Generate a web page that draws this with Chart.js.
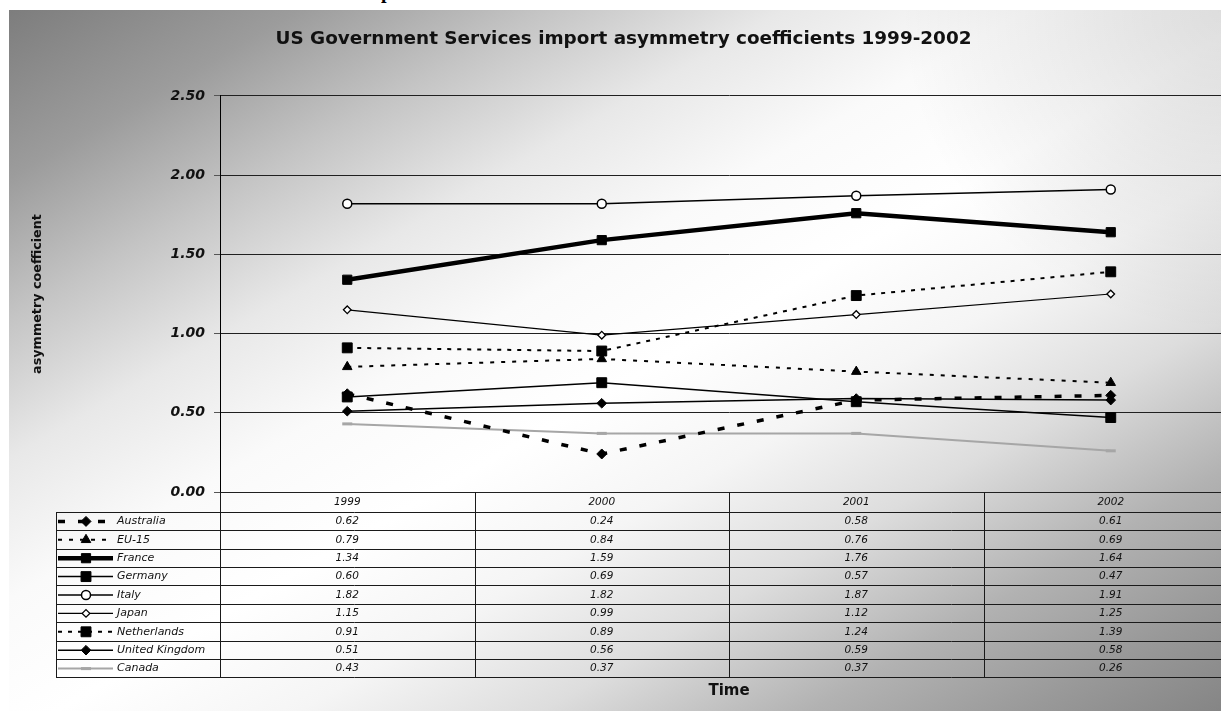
<!DOCTYPE html>
<html>
<head>
<meta charset="utf-8">
<script src="https://cdn.jsdelivr.net/npm/chart.js@4.4.1/dist/chart.umd.min.js"></script>
<style>
  html, body { margin:0; padding:0; background:#fff; overflow:hidden; width:1221px; height:711px; }
  #bg { position:absolute; left:9px; top:10px; width:1212px; height:701px;
        background:
          radial-gradient(circle at 100% 0%, rgba(0,0,0,0.13) 0px, rgba(0,0,0,0) 320px),
          linear-gradient(to bottom right,
          #7d7d7d 0%, #9c9c9c 12%, #c4c4c4 22%, #e8e8e8 32%, #fafafa 42%, #ffffff 52%,
          #f5f5f5 62%, #dddddd 72%, #b2b2b2 83%, #999999 92%, #858585 100%); }
  #wrap { position:absolute; left:9px; top:10px; width:1241px; height:701px; }
  #frag { position:absolute; left:381px; top:0; width:20px; height:4px; overflow:hidden;
          font:bold 20px "Liberation Serif"; line-height:20px; color:#000; }
  #frag span { position:relative; top:-19px; }
</style>
</head>
<body>
<div id="frag"><span>p</span></div>
<div id="bg"></div>
<div id="wrap"><canvas id="c" width="1241" height="701"></canvas></div>
<script>
// ---- data ----
const years = ['1999', '2000', '2001', '2002'];
const australia   = [0.62, 0.24, 0.58, 0.61];
const eu15        = [0.79, 0.84, 0.76, 0.69];
const france      = [1.34, 1.59, 1.76, 1.64];
const germany     = [0.60, 0.69, 0.57, 0.47];
const italy       = [1.82, 1.82, 1.87, 1.91];
const japan       = [1.15, 0.99, 1.12, 1.25];
const netherlands = [0.91, 0.89, 1.24, 1.39];
const unitedKingdom = [0.51, 0.56, 0.59, 0.58];
const canada      = [0.43, 0.37, 0.37, 0.26];
const seriesNames = ['Australia', 'EU-15', 'France', 'Germany', 'Italy', 'Japan', 'Netherlands', 'United Kingdom', 'Canada'];
const yMin = 0, yMax = 2.5, yStep = 0.5;
const titleText = 'US Government Services import asymmetry coefficients 1999-2002';
const yTitle = 'asymmetry coefficient';
const xTitle = 'Time';

const FONT = 'DejaVu Sans';
const BLACK = '#000';

const styles = [
  { borderWidth: 3.5, borderDash: [7, 13], pointStyle: 'rectRot', pointRadius: 5 },
  { borderWidth: 2, borderDash: [4, 7], pointStyle: 'triangle', pointRadius: 5.5 },
  { borderWidth: 4.5, pointStyle: 'rect', pointRadius: 6.5 },
  { borderWidth: 1.5, pointStyle: 'rect', pointRadius: 7 },
  { borderWidth: 1.5, pointStyle: 'circle', pointRadius: 4.5, pointBackgroundColor: '#fff', pointBorderWidth: 1.5 },
  { borderWidth: 1.2, pointStyle: 'rectRot', pointRadius: 3.8, pointBackgroundColor: '#fff', pointBorderWidth: 1.3 },
  { borderWidth: 2, borderDash: [4, 6], pointStyle: 'rect', pointRadius: 7 },
  { borderWidth: 1.5, pointStyle: 'rectRot', pointRadius: 4.8 },
  { borderWidth: 2, borderColor: '#a6a6a6', pointStyle: 'line', pointRadius: 5, pointBorderWidth: 3, pointBorderColor: '#a6a6a6', pointBackgroundColor: '#a6a6a6' }
];
const seriesData = [australia, eu15, france, germany, italy, japan, netherlands, unitedKingdom, canada];

const datasets = seriesData.map((d, i) => Object.assign({
  label: seriesNames[i],
  data: d,
  borderColor: BLACK,
  backgroundColor: BLACK,
  pointBackgroundColor: BLACK,
  pointBorderColor: BLACK,
  pointBorderWidth: 1,
  borderDash: [],
  tension: 0,
  fill: false
}, styles[i]));

function drawMarker(c, ds, x, y) {
  const opts = { pointStyle: ds.pointStyle, radius: ds.pointRadius, rotation: 0, borderWidth: ds.pointBorderWidth };
  c.save();
  c.setLineDash([]);
  c.fillStyle = ds.pointBackgroundColor;
  c.strokeStyle = ds.pointBorderColor;
  c.lineWidth = ds.pointBorderWidth;
  if (Chart.helpers && Chart.helpers.drawPoint) {
    Chart.helpers.drawPoint(c, opts, x, y);
  } else {
    const r = ds.pointRadius;
    c.beginPath();
    if (ds.pointStyle === 'circle') c.arc(x, y, r, 0, Math.PI * 2);
    else if (ds.pointStyle === 'rect') { const s = r * Math.SQRT1_2; c.rect(x - s, y - s, 2 * s, 2 * s); }
    else if (ds.pointStyle === 'rectRot') { c.moveTo(x, y - r); c.lineTo(x + r, y); c.lineTo(x, y + r); c.lineTo(x - r, y); c.closePath(); }
    else if (ds.pointStyle === 'triangle') { c.moveTo(x, y - r); c.lineTo(x + r * 0.866, y + r * 0.5); c.lineTo(x - r * 0.866, y + r * 0.5); c.closePath(); }
    else if (ds.pointStyle === 'line') { c.moveTo(x - r, y); c.lineTo(x + r, y); }
    c.fill();
    c.stroke();
  }
  c.restore();
}

const tablePlugin = {
  id: 'dataTable',
  afterDraw(chart) {
    const c = chart.ctx, a = chart.chartArea, xs = chart.scales.x;
    const W = chart.width;
    const headTop = a.bottom, headBot = a.bottom + 19.7, rowH = 18.4;
    const dsets = chart.data.datasets;
    const n = dsets.length;
    const tableBot = headBot + n * rowH;
    const legLeft = 47;
    const colW = (a.right - a.left) / years.length;
    const line = (x1, y1, x2, y2) => { c.beginPath(); c.moveTo(x1, y1); c.lineTo(x2, y2); c.stroke(); };
    c.save();
    c.strokeStyle = '#1a1a1a';
    c.lineWidth = 1;
    c.setLineDash([]);
    for (let i = 0; i <= n; i++) {
      const y = Math.round(headBot + i * rowH) + 0.5;
      line(legLeft, y, W, y);
    }
    line(legLeft + 0.5, Math.round(headBot), legLeft + 0.5, Math.round(tableBot) + 1);
    for (let k = 0; k < years.length; k++) {
      const x = Math.round(a.left + k * colW) + 0.5;
      line(x, headTop, x, Math.round(tableBot) + 1);
    }
    c.fillStyle = '#111';
    c.textAlign = 'center';
    c.textBaseline = 'middle';
    c.font = 'italic 10.5px "' + FONT + '"';
    years.forEach((yr, k) => c.fillText(yr, xs.getPixelForValue(k), (headTop + headBot) / 2 + 0.5));
    dsets.forEach((ds, i) => {
      const yc = headBot + (i + 0.5) * rowH + 0.5;
      c.fillStyle = '#111';
      c.textAlign = 'center';
      c.font = 'italic 10.5px "' + FONT + '"';
      ds.data.forEach((v, k) => c.fillText(v.toFixed(2), xs.getPixelForValue(k), yc));
      // legend sample
      c.save();
      c.strokeStyle = ds.borderColor;
      c.lineWidth = ds.borderWidth;
      c.setLineDash(ds.borderDash || []);
      c.lineCap = 'butt';
      line(49, yc, 104, yc);
      c.restore();
      drawMarker(c, ds, 77, yc);
      c.fillStyle = '#111';
      c.textAlign = 'left';
      c.font = 'italic 11px "' + FONT + '"';
      c.fillText(ds.label, 108, yc);
    });
    c.fillStyle = '#111';
    c.textAlign = 'center';
    c.font = 'bold 15px "' + FONT + '"';
    c.fillText(xTitle, (a.left + a.right) / 2, 681);
    c.restore();
  }
};

new Chart(document.getElementById('c'), {
  type: 'line',
  data: { labels: years, datasets: datasets },
  plugins: [tablePlugin],
  options: {
    responsive: false,
    animation: false,
    devicePixelRatio: 1,
    layout: { padding: { left: 0, right: 12, top: 0, bottom: 219 } },
    plugins: {
      legend: { display: false },
      tooltip: { enabled: false },
      title: {
        display: true,
        text: titleText,
        color: '#111',
        font: { family: FONT, size: 18.4, weight: 'bold' },
        padding: { top: 18, bottom: 45.9 }
      }
    },
    scales: {
      x: { type: 'category', display: false, offset: true },
      y: {
        min: yMin, max: yMax,
        afterFit: (s) => { s.width = 211; },
        ticks: {
          stepSize: yStep,
          callback: (v) => Number(v).toFixed(2),
          font: { family: FONT, size: 14, weight: 'bold', style: 'italic' },
          color: '#111',
          padding: 9
        },
        grid: { color: '#202020', lineWidth: 1, tickLength: 6, tickColor: '#555' },
        border: { display: true, color: '#000', width: 1 },
        title: {
          display: true,
          text: yTitle,
          color: '#111',
          font: { family: FONT, size: 12.75, weight: 'bold' },
          padding: { top: 21, bottom: 0 }
        }
      }
    }
  }
});
</script>
</body>
</html>
